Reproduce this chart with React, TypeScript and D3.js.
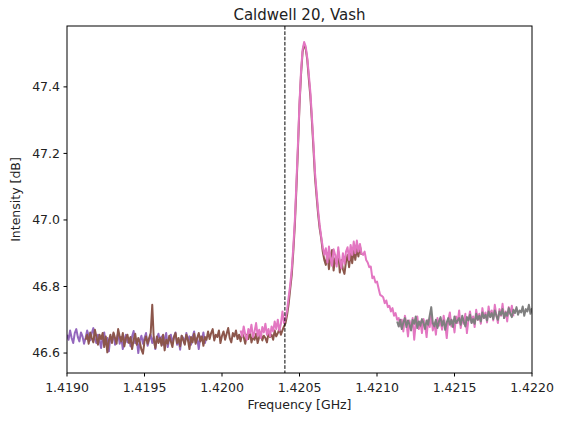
import React from "react";
import * as d3 from "d3";

// Frequency grid step (GHz) and start frequencies of each sweep
const STEP = 0.00001;
const purpleStart = 1.419;
const brownStart = 1.41912;
const pinkStart = 1.42012;
const grayStart = 1.42113;

const hydrogenLine = 1.420405751;

const xTicks = [1.419, 1.4195, 1.42, 1.4205, 1.421, 1.4215, 1.422];
const yTicks = [46.6, 46.8, 47.0, 47.2, 47.4];

const purpleValues = [
  46.655, 46.640, 46.668, 46.645, 46.630, 46.660, 46.672, 46.648, 46.635, 46.662, 46.650, 46.628, 46.645, 46.668, 46.652, 46.638, 46.660, 46.675, 46.642, 46.630,
  46.655, 46.640, 46.615, 46.648, 46.662, 46.630, 46.645, 46.605, 46.650, 46.636, 46.658, 46.625, 46.642, 46.660, 46.628, 46.648, 46.612, 46.640, 46.655, 46.632,
  46.645, 46.620, 46.650, 46.666, 46.630, 46.642, 46.600, 46.638, 46.652, 46.628, 46.645, 46.660, 46.622, 46.640, 46.655, 46.630, 46.648, 46.612, 46.644, 46.658,
  46.635, 46.650, 46.625, 46.642, 46.660, 46.618, 46.645, 46.655, 46.630, 46.648, 46.662, 46.625, 46.640, 46.610, 46.652, 46.645, 46.628, 46.660, 46.638, 46.650,
  46.625, 46.648, 46.665, 46.632, 46.645, 46.612, 46.650, 46.640, 46.662, 46.630, 46.648,
];

const brownValues = [
  46.640, 46.655, 46.628, 46.662, 46.645, 46.632, 46.670, 46.648, 46.625, 46.655, 46.642, 46.660, 46.618, 46.650, 46.602, 46.638, 46.655, 46.630, 46.662, 46.645,
  46.628, 46.672, 46.650, 46.635, 46.660, 46.620, 46.645, 46.655, 46.630, 46.648, 46.612, 46.640, 46.658, 46.625, 46.645, 46.632, 46.610, 46.598, 46.635, 46.650,
  46.628, 46.645, 46.660, 46.745, 46.640, 46.615, 46.650, 46.630, 46.645, 46.622, 46.655, 46.608, 46.640, 46.628, 46.652, 46.635, 46.618, 46.648, 46.660, 46.630,
  46.645, 46.620, 46.652, 46.638, 46.625, 46.655, 46.640, 46.612, 46.648, 46.632, 46.658, 46.628, 46.645, 46.660, 46.635, 46.650, 46.622, 46.648, 46.640, 46.665,
  46.642, 46.660, 46.672, 46.638, 46.655, 46.648, 46.668, 46.630, 46.652, 46.665, 46.640, 46.658, 46.675, 46.645, 46.632, 46.660, 46.650, 46.668, 46.642, 46.655,
  46.635, 46.660, 46.648, 46.628, 46.655, 46.642, 46.665, 46.632, 46.650, 46.640, 46.658, 46.630, 46.648, 46.662, 46.638, 46.652, 46.645, 46.632, 46.660, 46.648,
  46.655, 46.640, 46.668, 46.650, 46.660, 46.672, 46.655, 46.668, 46.680, 46.690,
  46.715, 46.748, 46.792, 46.835, 46.905, 46.985, 47.095, 47.215, 47.345, 47.438, 47.505, 47.528, 47.515, 47.482, 47.425, 47.372, 47.298, 47.215, 47.128, 47.072,
  47.018, 46.975, 46.945, 46.905, 46.880,
  46.865, 46.900, 46.852, 46.890, 46.910, 46.848, 46.885, 46.868, 46.905, 46.842, 46.880, 46.852, 46.838, 46.875, 46.895, 46.858, 46.900, 46.870, 46.910, 46.880,
  46.915, 46.890, 46.922, 46.895,
];

const pinkValues = [
  46.668, 46.650, 46.680, 46.655, 46.640, 46.672, 46.660, 46.685, 46.648, 46.665, 46.690, 46.652, 46.670, 46.645, 46.678, 46.662, 46.688, 46.655, 46.672, 46.650,
  46.680, 46.665, 46.695, 46.672, 46.700, 46.668, 46.688, 46.725, 46.690, 46.705,
  46.728, 46.768, 46.805, 46.852, 46.918, 47.000, 47.110, 47.228, 47.352, 47.448, 47.512, 47.535, 47.522, 47.488, 47.438, 47.385, 47.310, 47.230, 47.142, 47.085,
  47.030, 46.985, 46.950, 46.918, 46.895,
  46.915, 46.872, 46.920, 46.885, 46.862, 46.912, 46.895, 46.860, 46.918, 46.880, 46.855, 46.900, 46.868, 46.905, 46.918, 46.880, 46.925, 46.895, 46.935, 46.900,
  46.938, 46.905, 46.928, 46.900,
  46.895, 46.905, 46.880, 46.872, 46.858, 46.860, 46.825, 46.830, 46.812, 46.815, 46.795, 46.775, 46.772, 46.768, 46.750, 46.758, 46.738, 46.742, 46.725, 46.735,
  46.712, 46.720, 46.700, 46.705,
  46.680, 46.700, 46.665, 46.712, 46.690, 46.650, 46.698, 46.675, 46.705, 46.640, 46.688, 46.710, 46.672, 46.695, 46.660, 46.702, 46.685, 46.648, 46.700, 46.678,
  46.715, 46.668, 46.692, 46.655, 46.705, 46.682,
  46.695, 46.670, 46.712, 46.685, 46.645, 46.700, 46.722, 46.680, 46.698, 46.662, 46.710, 46.690, 46.728, 46.675, 46.705, 46.688, 46.718, 46.660, 46.700, 46.725,
  46.692, 46.710, 46.678, 46.730,
  46.700, 46.718, 46.688, 46.735, 46.705, 46.722, 46.692, 46.740, 46.710, 46.728, 46.698, 46.745, 46.715, 46.690, 46.732, 46.712, 46.748, 46.705, 46.725, 46.695,
  46.738, 46.718, 46.742, 46.710,
];

const grayValues = [
  46.695, 46.680, 46.700, 46.672, 46.692, 46.705, 46.678, 46.698, 46.685, 46.668, 46.700, 46.688, 46.710, 46.675, 46.695, 46.682, 46.702, 46.690, 46.672, 46.698,
  46.685, 46.712, 46.738, 46.690, 46.680, 46.700, 46.675, 46.695, 46.708, 46.682, 46.698, 46.670, 46.692, 46.705, 46.685, 46.700, 46.678, 46.710, 46.690, 46.698,
  46.705, 46.685, 46.712, 46.695, 46.680, 46.708, 46.698, 46.715, 46.690, 46.702, 46.688, 46.718, 46.700, 46.712, 46.695, 46.722, 46.705, 46.715, 46.698, 46.725,
  46.708, 46.720, 46.702, 46.728, 46.712, 46.700, 46.725, 46.715, 46.732, 46.705, 46.722, 46.712, 46.735, 46.718, 46.708, 46.730, 46.720, 46.738, 46.715, 46.728,
  46.722, 46.740, 46.712, 46.732, 46.725, 46.745, 46.718, 46.735,
];

const seriesList = [
  { name: "purple", start: purpleStart, values: purpleValues, color: "#9467bd" },
  { name: "brown", start: brownStart, values: brownValues, color: "#8c564b" },
  { name: "pink", start: pinkStart, values: pinkValues, color: "#e377c2" },
  { name: "gray", start: grayStart, values: grayValues, color: "#7f7f7f" },
];

export default function App() {
  const W = 561;
  const H = 421;
  const left = 67;
  const right = 532;
  const top = 26;
  const bottom = 373;
  const font = "'DejaVu Sans', sans-serif";

  const x = d3.scaleLinear().domain([1.419, 1.422]).range([left, right]);
  const y = d3.scaleLinear().domain([46.54, 47.583]).range([bottom, top]);

  const makePath = (start: number, values: number[]) =>
    d3
      .line<number>()
      .x((_, i) => x(start + i * STEP))
      .y((d) => y(d))(values) || "";

  return (
    <svg
      width={W}
      height={H}
      style={{ position: "absolute", left: 0, top: 0, background: "#fff" }}
      fontFamily={font}
    >
      <defs>
        <clipPath id="plotClip">
          <rect x={left} y={top} width={right - left} height={bottom - top} />
        </clipPath>
      </defs>
      <g clipPath="url(#plotClip)">
        {seriesList.map((s) => (
          <path
            key={s.name}
            d={makePath(s.start, s.values)}
            fill="none"
            stroke={s.color}
            strokeWidth={2}
            strokeLinejoin="round"
          />
        ))}
        <line
          x1={x(hydrogenLine)}
          x2={x(hydrogenLine)}
          y1={top}
          y2={bottom}
          stroke="#000"
          strokeWidth={1}
          strokeDasharray="3.7,1.6"
        />
      </g>
      <rect
        x={left}
        y={top}
        width={right - left}
        height={bottom - top}
        fill="none"
        stroke="#000"
        strokeWidth={1}
      />
      {xTicks.map((t) => (
        <g key={"x" + t}>
          <line x1={x(t)} x2={x(t)} y1={bottom} y2={bottom + 3.5} stroke="#000" strokeWidth={1} />
          <text x={x(t)} y={bottom + 19} textAnchor="middle" fontSize={12.5} fill="#222">
            {t.toFixed(4)}
          </text>
        </g>
      ))}
      {yTicks.map((t) => (
        <g key={"y" + t}>
          <line x1={left - 3.5} x2={left} y1={y(t)} y2={y(t)} stroke="#000" strokeWidth={1} />
          <text
            x={left - 7}
            y={y(t)}
            dy="0.35em"
            textAnchor="end"
            fontSize={12.5}
            fill="#222"
          >
            {t.toFixed(1)}
          </text>
        </g>
      ))}
      <text x={(left + right) / 2} y={409} textAnchor="middle" fontSize={12.5} fill="#222">
        Frequency [GHz]
      </text>
      <text
        transform={`translate(20, ${(top + bottom) / 2}) rotate(-90)`}
        textAnchor="middle"
        fontSize={12.5}
        fill="#222"
      >
        Intensity [dB]
      </text>
      <text x={(left + right) / 2} y={20} textAnchor="middle" fontSize={15} fill="#222">
        Caldwell 20, Vash
      </text>
    </svg>
  );
}
